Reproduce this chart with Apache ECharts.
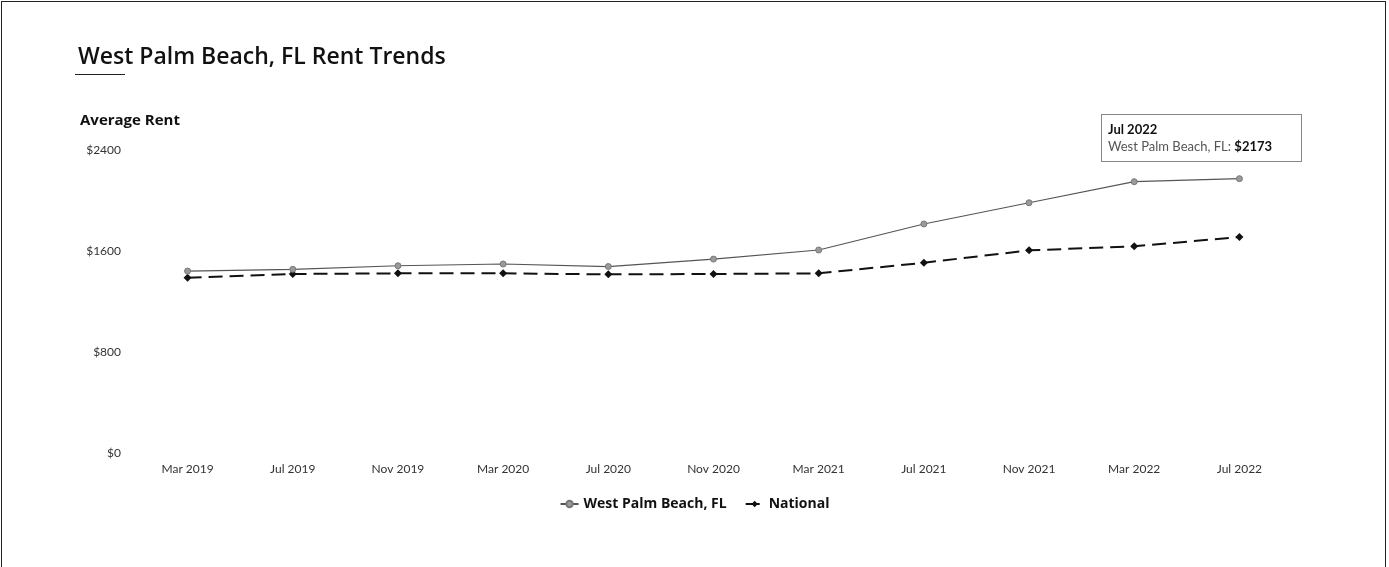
<!DOCTYPE html>
<html>
<head>
<meta charset="utf-8">
<script src="https://cdn.jsdelivr.net/npm/echarts@6/dist/echarts.min.js"></script>
<style>
  html, body { margin: 0; padding: 0; background: #fff; overflow: hidden; }
  #frame { position: absolute; left: 1px; top: 1px; width: 1385px; height: 600px; border: 1px solid #222; box-sizing: border-box; }
  #chart { position: absolute; left: 0; top: 0; width: 1389px; height: 567px; }
</style>
</head>
<body>
<div id="frame"></div>
<div id="chart"></div>
<script>
// Monthly snapshots, every four months
const months = ['Mar 2019', 'Jul 2019', 'Nov 2019', 'Mar 2020', 'Jul 2020', 'Nov 2020',
                'Mar 2021', 'Jul 2021', 'Nov 2021', 'Mar 2022', 'Jul 2022'];
// Average rent, West Palm Beach, FL
const westPalmBeach = [1441, 1455, 1483, 1497, 1477, 1536, 1608, 1814, 1982, 2149, 2173];
// Average rent, national
const national = [1388, 1418, 1423, 1423, 1415, 1418, 1423, 1507, 1605, 1637, 1711];
const rentTicks = [0, 800, 1600, 2400];

const chart = echarts.init(document.getElementById('chart'), null, { renderer: 'canvas' });
const wide = '"Open Sans", "Noto Sans", sans-serif';
const narrow = 'Lato, "Noto Sans", sans-serif';

chart.setOption({
  animation: false,
  backgroundColor: 'transparent',
  title: {
    text: 'West Palm Beach, FL Rent Trends',
    left: 73, top: 41,
    textStyle: { fontFamily: wide, fontSize: 23, fontWeight: 600, color: '#111' }
  },
  graphic: [{
    type: 'line',
    shape: { x1: 75, y1: 74.5, x2: 125, y2: 74.5 },
    style: { stroke: '#222', lineWidth: 1 }
  }],
  grid: { left: 135, right: 97, top: 150, bottom: 114 },
  tooltip: {
    trigger: 'item',
    alwaysShowContent: true,
    triggerOn: 'none',
    backgroundColor: '#fff',
    borderColor: '#888',
    borderWidth: 1,
    borderRadius: 0,
    padding: [6, 6, 6, 6],
    extraCssText: 'box-shadow:none;width:187px;',
    textStyle: { fontFamily: narrow, fontSize: 13, color: '#555' },
    position: [1101, 114],
    formatter: function (p) {
      return '<div style="font-weight:bold;color:#111;line-height:17px">' + p.name + '</div>' +
             '<div style="line-height:17px">' + p.seriesName + ': <b style="color:#111">$' + p.value + '</b></div>';
    }
  },
  legend: {
    bottom: 51, left: 'center',
    itemWidth: 18, itemHeight: 8, itemGap: 18,
    textStyle: { fontFamily: wide, fontSize: 14, fontWeight: 'bold', color: '#111' },
    data: ['West Palm Beach, FL', 'National']
  },
  xAxis: {
    type: 'category',
    data: months,
    boundaryGap: true,
    axisLine: { show: false },
    axisTick: { show: false },
    axisLabel: { interval: 0, margin: 10, fontFamily: narrow, fontSize: 12, color: '#333' }
  },
  yAxis: {
    type: 'value',
    min: rentTicks[0], max: rentTicks[rentTicks.length - 1], interval: 800,
    name: 'Average Rent',
    nameLocation: 'end',
    nameGap: 22,
    nameTextStyle: { align: 'left', fontFamily: wide, fontSize: 15, fontWeight: 'bold', color: '#111', padding: [0, 0, 0, -55] },
    axisLine: { show: false },
    axisTick: { show: false },
    splitLine: { show: false },
    axisLabel: { margin: 14, fontFamily: narrow, fontSize: 12, color: '#333', formatter: v => '$' + v }
  },
  series: [
    {
      name: 'West Palm Beach, FL',
      type: 'line',
      data: westPalmBeach,
      symbol: 'circle',
      symbolSize: 6,
      itemStyle: { color: '#9a9a9a', borderColor: '#777', borderWidth: 1 },
      lineStyle: { color: '#555', width: 1.2 },
      z: 3
    },
    {
      name: 'National',
      type: 'line',
      data: national,
      symbol: 'diamond',
      symbolSize: 8,
      itemStyle: { color: '#111' },
      lineStyle: { color: '#111', width: 2, type: [14, 7] },
      z: 2
    }
  ]
});

chart.dispatchAction({ type: 'showTip', seriesIndex: 0, dataIndex: 10 });
</script>
</body>
</html>
